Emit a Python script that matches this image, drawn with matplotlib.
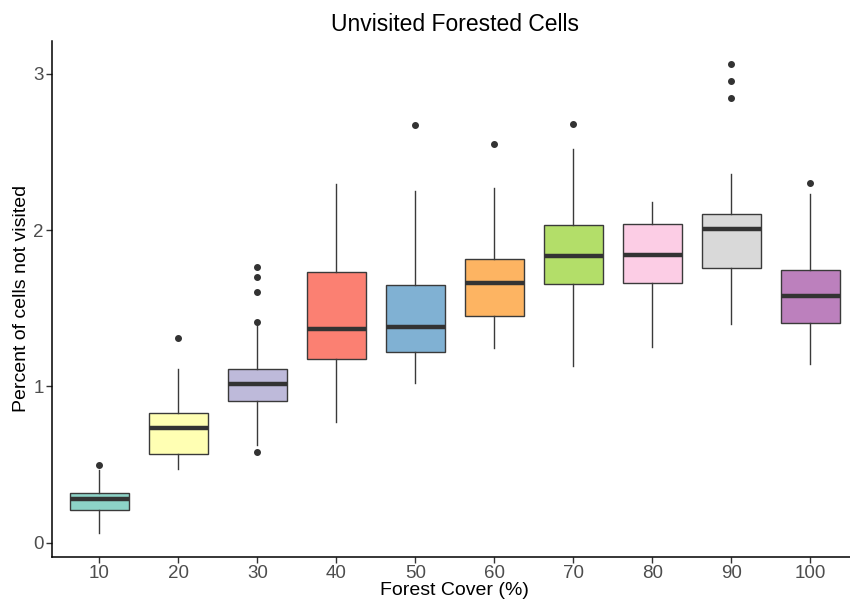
import matplotlib
matplotlib.use('Agg')
import matplotlib.pyplot as plt

plt.rcParams['font.family'] = ['Liberation Sans', 'DejaVu Sans']

# Resumen por nivel de cobertura forestal
cover = ['10', '20', '30', '40', '50', '60', '70', '80', '90', '100']
whislo = [0.062, 0.473, 0.625, 0.772, 1.022, 1.243, 1.128, 1.252, 1.401, 1.145]
q1 = [0.211, 0.569, 0.910, 1.177, 1.222, 1.450, 1.655, 1.663, 1.755, 1.406]
med = [0.280, 0.731, 1.015, 1.367, 1.382, 1.659, 1.832, 1.838, 2.007, 1.576]
q3 = [0.318, 0.830, 1.109, 1.732, 1.651, 1.815, 2.030, 2.039, 2.105, 1.747]
whishi = [0.463, 1.111, 1.393, 2.297, 2.252, 2.267, 2.519, 2.182, 2.356, 2.228]
fliers = [[0.497], [1.31], [1.763, 1.699, 1.601, 1.411, 0.580], [], [2.672],
          [2.551], [2.681], [], [3.060, 2.951, 2.845], [2.299]]
colors = ['#8DD3C7', '#FFFFB3', '#BEBADA', '#FB8072', '#80B1D3',
          '#FDB462', '#B3DE69', '#FCCDE5', '#D9D9D9', '#BC80BD']

stats = []
for i in range(len(cover)):
    stats.append({'whislo': whislo[i], 'q1': q1[i], 'med': med[i], 'q3': q3[i],
                  'whishi': whishi[i], 'fliers': fliers[i], 'label': cover[i]})

W, H = 850, 599
fig = plt.figure(figsize=(W / 100, H / 100), dpi=100)
ax = fig.add_axes([52 / W, (H - 556.5) / H, (857.5 - 52) / W, (556.5 - 41) / H])

pos = list(range(1, len(cover) + 1))
bp = ax.bxp(stats, positions=pos, widths=0.75, patch_artist=True, showcaps=False,
            boxprops=dict(edgecolor='#3a3a3a', linewidth=1.0),
            whiskerprops=dict(color='#3a3a3a', linewidth=1.0),
            medianprops=dict(color='#333333', linewidth=3.2, solid_capstyle='butt'),
            flierprops=dict(marker='o', markerfacecolor='#333333', markeredgecolor='#333333',
                            markersize=4, linestyle='none'))
for patch, c in zip(bp['boxes'], colors):
    patch.set_facecolor(c)

ax.set_xlim(0.4, 10.6)
ax.set_ylim(-0.088, 3.21)
ax.set_yticks([0, 1, 2, 3])
ax.set_xticks(pos)
ax.set_xticklabels(cover)

for side in ['top', 'right']:
    ax.spines[side].set_visible(False)
for side in ['left', 'bottom']:
    ax.spines[side].set_linewidth(1.1)
    ax.spines[side].set_color('black')
ax.tick_params(axis='both', length=4, width=1.0, color='#333333',
               labelcolor='#4D4D4D', labelsize=13.5, pad=2)

ax.set_title('Unvisited Forested Cells', fontsize=16.5, pad=7)
ax.set_xlabel('Forest Cover (%)', fontsize=14, labelpad=0)
ax.set_ylabel('Percent of cells not visited', fontsize=14, labelpad=2)

fig.savefig('out.png', dpi=100)
plt.close(fig)
